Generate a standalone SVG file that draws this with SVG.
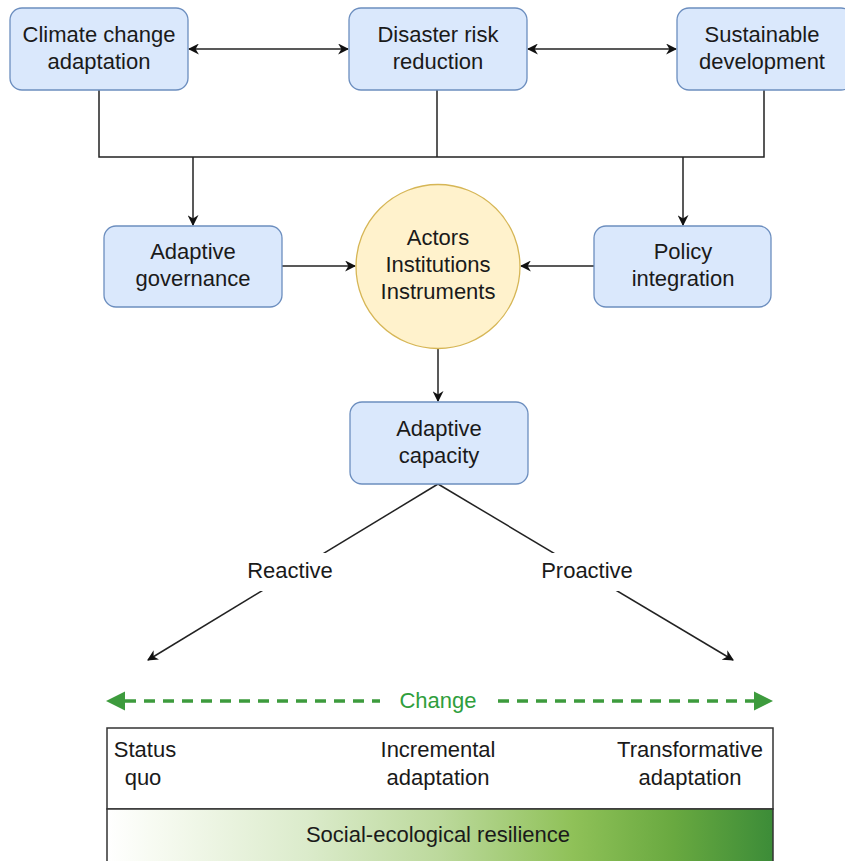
<svg xmlns="http://www.w3.org/2000/svg" width="845" height="861" viewBox="0 0 845 861">
  <defs>
    <style>
      .box { fill: #dae8fc; stroke: #6c8ebf; stroke-width: 1.3; }
      .hub { fill: #fff2cc; stroke: #d6b656; stroke-width: 1.3; }
      .lbl { font-family: "Liberation Sans", Arial, sans-serif; font-size: 22px; fill: #1a1a1a; text-anchor: middle; }
      .edge { fill: none; stroke: #222222; stroke-width: 1.5; }
      .green { fill: none; stroke: #3d9b3d; stroke-width: 3.5; stroke-dasharray: 11 8; }
      .ghead { fill: #3d9b3d; }
      .greentxt { font-family: "Liberation Sans", Arial, sans-serif; font-size: 22px; fill: #2f9e3c; text-anchor: middle; }
    </style>
    <marker id="arr" viewBox="0 0 10 10" refX="9" refY="5" markerWidth="11" markerHeight="11" markerUnits="userSpaceOnUse" orient="auto-start-reverse">
      <path d="M0,0 L10,5 L0,10 L3,5 Z" fill="#111111"/>
    </marker>
    <linearGradient id="resil" x1="0" y1="0" x2="1" y2="0">
      <stop offset="0" stop-color="#ffffff"/>
      <stop offset="0.08" stop-color="#f6faf0"/>
      <stop offset="0.3" stop-color="#dbebcb"/>
      <stop offset="0.5" stop-color="#bcd99c"/>
      <stop offset="0.7" stop-color="#8fc158"/>
      <stop offset="0.85" stop-color="#69a940"/>
      <stop offset="1" stop-color="#3c8c38"/>
    </linearGradient>
  </defs>

  <!-- connectors -->
  <g id="connectors">
    <line class="edge" x1="189" y1="49" x2="348" y2="49" marker-start="url(#arr)" marker-end="url(#arr)"/>
    <line class="edge" x1="528" y1="49" x2="676" y2="49" marker-start="url(#arr)" marker-end="url(#arr)"/>
    <polyline class="edge" points="99,90 99,157 764,157 764,90"/>
    <line class="edge" x1="437" y1="90" x2="437" y2="157"/>
    <line class="edge" x1="193" y1="157" x2="193" y2="225" marker-end="url(#arr)"/>
    <line class="edge" x1="683" y1="157" x2="683" y2="225" marker-end="url(#arr)"/>
    <line class="edge" x1="282" y1="266" x2="355" y2="266" marker-end="url(#arr)"/>
    <line class="edge" x1="594" y1="266" x2="521" y2="266" marker-end="url(#arr)"/>
    <line class="edge" x1="438" y1="349" x2="438" y2="401" marker-end="url(#arr)"/>
    <line class="edge" x1="438" y1="484" x2="148" y2="660" marker-end="url(#arr)"/>
    <line class="edge" x1="438" y1="484" x2="733" y2="660" marker-end="url(#arr)"/>
    <!-- edge labels with white backing -->
    <rect x="240" y="553" width="104" height="38" fill="#ffffff"/>
    <text class="lbl" x="290" y="578">Reactive</text>
    <rect x="532" y="553" width="110" height="38" fill="#ffffff"/>
    <text class="lbl" x="587" y="578">Proactive</text>
    <!-- change axis: dashed shaft with solid heads at both ends -->
    <polygon class="ghead" points="106,701 125,691.5 125,710.5"/>
    <line class="green" x1="125" y1="701" x2="380" y2="701"/>
    <line class="green" x1="498" y1="701" x2="754" y2="701"/>
    <polygon class="ghead" points="773,701 754,691.5 754,710.5"/>
    <text class="greentxt" x="438" y="708">Change</text>
  </g>

  <g id="climate-change-adaptation">
    <rect class="box" x="10" y="8" width="178" height="82" rx="12"/>
    <text class="lbl" x="99" y="42">Climate change</text>
    <text class="lbl" x="99" y="69">adaptation</text>
  </g>
  <g id="disaster-risk-reduction">
    <rect class="box" x="349" y="8" width="178" height="82" rx="12"/>
    <text class="lbl" x="438" y="42">Disaster risk</text>
    <text class="lbl" x="438" y="69">reduction</text>
  </g>
  <g id="sustainable-development">
    <rect class="box" x="677" y="8" width="176" height="82" rx="12"/>
    <text class="lbl" x="762" y="42">Sustainable</text>
    <text class="lbl" x="762" y="69">development</text>
  </g>
  <g id="adaptive-governance">
    <rect class="box" x="104" y="226" width="178" height="81" rx="12"/>
    <text class="lbl" x="193" y="259">Adaptive</text>
    <text class="lbl" x="193" y="286">governance</text>
  </g>
  <g id="actors-institutions-instruments">
    <circle class="hub" cx="438" cy="266.5" r="82"/>
    <text class="lbl" x="438" y="245">Actors</text>
    <text class="lbl" x="438" y="272">Institutions</text>
    <text class="lbl" x="438" y="299">Instruments</text>
  </g>
  <g id="policy-integration">
    <rect class="box" x="594" y="226" width="177" height="81" rx="12"/>
    <text class="lbl" x="683" y="259">Policy</text>
    <text class="lbl" x="683" y="286">integration</text>
  </g>
  <g id="adaptive-capacity">
    <rect class="box" x="350" y="402" width="178" height="82" rx="12"/>
    <text class="lbl" x="439" y="436">Adaptive</text>
    <text class="lbl" x="439" y="463">capacity</text>
  </g>

  <g id="adaptation-spectrum">
    <rect x="107" y="728" width="666" height="81" fill="#ffffff" stroke="#333333" stroke-width="1.5"/>
    <text class="lbl" x="145" y="757">Status</text>
    <text class="lbl" x="143" y="785">quo</text>
    <text class="lbl" x="438" y="757">Incremental</text>
    <text class="lbl" x="438" y="785">adaptation</text>
    <text class="lbl" x="690" y="757">Transformative</text>
    <text class="lbl" x="690" y="785">adaptation</text>
  </g>
  <g id="social-ecological-resilience">
    <rect x="107" y="809" width="666" height="60" fill="url(#resil)" stroke="#333333" stroke-width="1.5"/>
    <text class="lbl" x="438" y="842">Social-ecological resilience</text>
  </g>
</svg>
